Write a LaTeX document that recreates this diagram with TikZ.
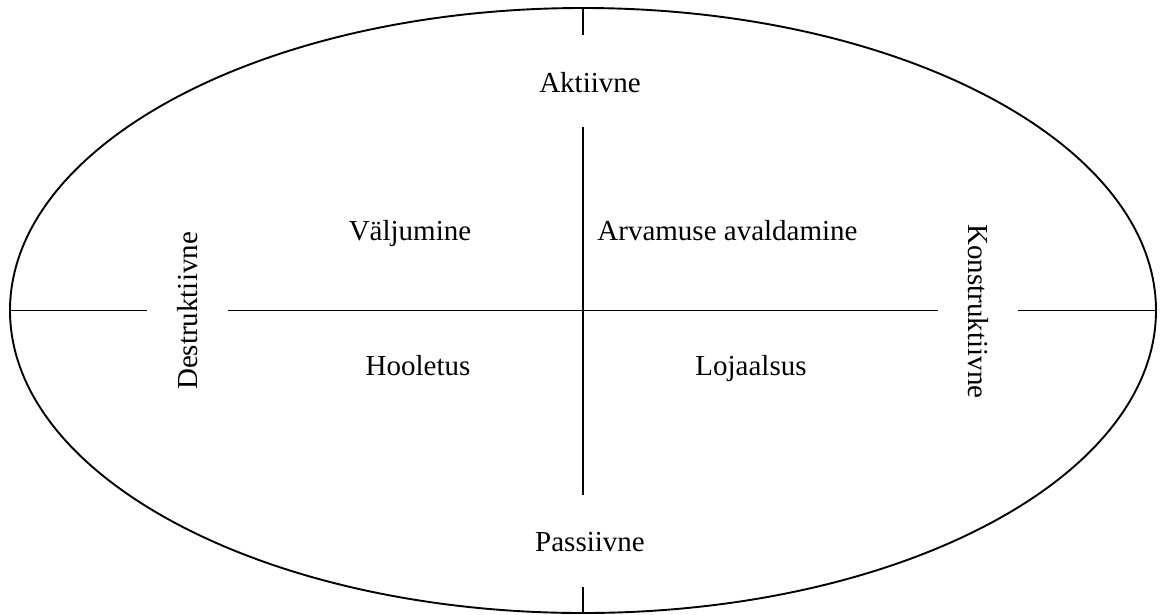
\documentclass[tikz,border=0pt]{standalone}
\usepackage{fontspec}
\setmainfont{Liberation Serif}
\begin{document}
\begin{tikzpicture}[x=1pt,y=-1pt,
  lbl/.style={font=\fontsize{29}{34}\selectfont, inner sep=0pt, anchor=base},
  ln/.style={line width=1.9pt}]
\useasboundingbox (0,0) rectangle (1160,614);
\coordinate (c) at (583,310.5);
\draw[ln] (c) ellipse [x radius=573, y radius=302.5];
% axis end points
\coordinate (t0) at (583,8);
\coordinate (t1) at (583,35);
\coordinate (m0) at (583,127);
\coordinate (m1) at (583,495);
\coordinate (b0) at (583,587);
\coordinate (b1) at (583,613);
\coordinate (l0) at (10,310.5);
\coordinate (l1) at (147,310.5);
\coordinate (h0) at (228,310.5);
\coordinate (h1) at (938,310.5);
\coordinate (r0) at (1018,310.5);
\coordinate (r1) at (1156,310.5);
\draw[ln] (t0) -- (t1);
\draw[ln] (m0) -- (m1);
\draw[ln] (b0) -- (b1);
\draw[ln] (l0) -- (l1);
\draw[ln] (h0) -- (h1);
\draw[ln] (r0) -- (r1);
% labels
\node[lbl] (akt) at (590,92) {Aktiivne};
\node[lbl] (pas) at (590,551) {Passiivne};
\node[lbl] (val) at (410,240) {Väljumine};
\node[lbl] (arv) at (727.5,240) {Arvamuse avaldamine};
\node[lbl] (hoo) at (418,375) {Hooletus};
\node[lbl] (loj) at (751,375) {Lojaalsus};
\node[lbl, rotate=90] (des) at (197,311) {Destruktiivne};
\node[lbl, rotate=-90] (kon) at (968,311.5) {Konstruktiivne};
\end{tikzpicture}
\end{document}
